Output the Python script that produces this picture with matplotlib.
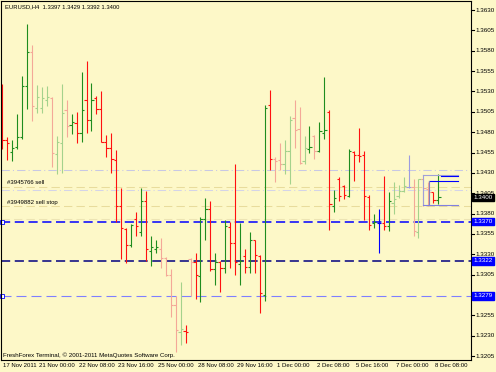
import matplotlib
matplotlib.use("Agg")
import matplotlib.pyplot as plt
import matplotlib.transforms as mtransforms

# EURUSD H4 bars, 17 Nov 2011 16:00 .. 8 Dec 2011 08:00
opens = [1.3507, 1.3470, 1.3456, 1.3462, 1.3474, 1.3537, 1.3579, 1.3510, 1.3510, 1.3520,
         1.3522, 1.3453, 1.3467, 1.3507, 1.3489, 1.3491, 1.3479, 1.3519, 1.3495, 1.3522,
         1.3509, 1.3468, 1.3461, 1.3446, 1.3389, 1.3361, 1.3341, 1.3373, 1.3358, 1.3395,
         1.3334, 1.3336, 1.3336, 1.3325, 1.3305, 1.3268, 1.3235, 1.3236, 1.3324, 1.3321,
         1.3303, 1.3373, 1.3386, 1.3312, 1.3320, 1.3313, 1.3364, 1.3344, 1.3318, 1.3328,
         1.3314, 1.3347, 1.3328, 1.3280, 1.3513, 1.3447, 1.3446, 1.3441, 1.3457, 1.3497,
         1.3484, 1.3444, 1.3459, 1.3475, 1.3457, 1.3479, 1.3505, 1.3389, 1.3423, 1.3414,
         1.3402, 1.3456, 1.3452, 1.3452, 1.3400, 1.3368, 1.3369, 1.3369, 1.3365, 1.3393,
         1.3402, 1.3408, 1.3413, 1.3413, 1.3358, 1.3422, 1.3410, 1.3406, 1.3397]
highs = [1.3539, 1.3474, 1.3471, 1.3502, 1.3549, 1.3613, 1.3587, 1.3538, 1.3535, 1.3537,
         1.3523, 1.3475, 1.3539, 1.3520, 1.3502, 1.3505, 1.3554, 1.3568, 1.3541, 1.3524,
         1.3530, 1.3477, 1.3479, 1.3458, 1.3412, 1.3362, 1.3367, 1.3382, 1.3411, 1.3408,
         1.3352, 1.3348, 1.3350, 1.3327, 1.3312, 1.3279, 1.3296, 1.3243, 1.3325, 1.3332,
         1.3376, 1.3399, 1.3396, 1.3332, 1.3322, 1.3372, 1.3370, 1.3441, 1.3369, 1.3336,
         1.3358, 1.3348, 1.3329, 1.3513, 1.3532, 1.3449, 1.3467, 1.3471, 1.3500, 1.3520,
         1.3511, 1.3475, 1.3487, 1.3477, 1.3492, 1.3548, 1.3507, 1.3409, 1.3425, 1.3415,
         1.3459, 1.3457, 1.3485, 1.3457, 1.3403, 1.3380, 1.3386, 1.3426, 1.3407, 1.3419,
         1.3415, 1.3425, 1.3452, 1.3423, 1.3423, 1.3423, 1.3419, 1.3407, 1.3429]
lows = [1.3459, 1.3446, 1.3445, 1.3459, 1.3472, 1.3508, 1.3494, 1.3504, 1.3504, 1.3512,
        1.3437, 1.3429, 1.3430, 1.3474, 1.3478, 1.3467, 1.3468, 1.3479, 1.3481, 1.3502,
        1.3468, 1.3450, 1.3430, 1.3370, 1.3324, 1.3319, 1.3339, 1.3352, 1.3352, 1.3322,
        1.3316, 1.3331, 1.3313, 1.3303, 1.3253, 1.3210, 1.3219, 1.3221, 1.3279, 1.3275,
        1.3271, 1.3347, 1.3309, 1.3292, 1.3284, 1.3307, 1.3313, 1.3305, 1.3292, 1.3307,
        1.3307, 1.3307, 1.3258, 1.3273, 1.3433, 1.3419, 1.3433, 1.3429, 1.3416, 1.3460,
        1.3441, 1.3441, 1.3455, 1.3447, 1.3456, 1.3472, 1.3360, 1.3382, 1.3396, 1.3398,
        1.3400, 1.3420, 1.3443, 1.3372, 1.3360, 1.3362, 1.3332, 1.3360, 1.3359, 1.3380,
        1.3399, 1.3406, 1.3411, 1.3352, 1.3350, 1.3389, 1.3389, 1.3393, 1.3392]
closes = [1.3470, 1.3467, 1.3461, 1.3474, 1.3537, 1.3578, 1.3512, 1.3523, 1.3522, 1.3523,
          1.3454, 1.3468, 1.3504, 1.3487, 1.3492, 1.3479, 1.3507, 1.3495, 1.3520, 1.3508,
          1.3468, 1.3461, 1.3447, 1.3389, 1.3362, 1.3341, 1.3366, 1.3365, 1.3396, 1.3336,
          1.3339, 1.3339, 1.3325, 1.3305, 1.3268, 1.3237, 1.3238, 1.3234, 1.3321, 1.3305,
          1.3373, 1.3386, 1.3312, 1.3320, 1.3313, 1.3365, 1.3344, 1.3321, 1.3322, 1.3314,
          1.3348, 1.3329, 1.3282, 1.3510, 1.3447, 1.3444, 1.3441, 1.3457, 1.3495, 1.3483,
          1.3442, 1.3460, 1.3462, 1.3457, 1.3482, 1.3483, 1.3392, 1.3399, 1.3402, 1.3403,
          1.3457, 1.3452, 1.3451, 1.3401, 1.3366, 1.3370, 1.3369, 1.3365, 1.3395, 1.3398,
          1.3408, 1.3414, 1.3413, 1.3359, 1.3422, 1.3411, 1.3406, 1.3397, 1.3400]

# bars drawn faded in the screenshot
pale = [6, 7, 8, 9, 10, 11, 12, 13, 32, 33, 34, 35, 36, 38, 55, 56, 57, 58, 59, 60,
        61, 63, 79, 80, 81, 82, 83, 84, 85, 86]

time_labels = ['17 Nov 2011', '21 Nov 00:00', '22 Nov 08:00', '23 Nov 16:00', '25 Nov 00:00',
               '28 Nov 08:00', '29 Nov 16:00', '1 Dec 00:00', '2 Dec 08:00', '5 Dec 16:00',
               '7 Dec 00:00', '8 Dec 08:00']
time_label_bars = [0, 8, 16, 24, 32, 40, 48, 56, 64, 72, 80, 88]

price_ticks = [1.3630, 1.3605, 1.3580, 1.3555, 1.3530, 1.3505, 1.3480, 1.3455, 1.3430, 1.3405,
               1.3380, 1.3355, 1.3330, 1.3305, 1.3280, 1.3255, 1.3230, 1.3205]

# horizontal lines with price boxes on the right
hline_prices = [1.3370, 1.3322, 1.3279]
bid = 1.3400

# faint order lines
order_levels = [1.34335, 1.3413, 1.3409, 1.3389, 1.3373]
order_labels = ['#3945766 sell', '#3949882 sell stop']
order_label_prices = [1.3418, 1.3394]

title = 'EURUSD,H4  1.3397 1.3429 1.3392 1.3400'
footer = 'FreshForex Terminal, \u00a9 2001-2011 MetaQuotes Software Corp.'

bg = '#fdf8c8'
W, H = 496, 372
plt.rcParams['font.family'] = ['Liberation Sans', 'DejaVu Sans']
fig = plt.figure(figsize=(W / 100, H / 100), dpi=100, facecolor=bg)
ax = fig.add_axes([1 / W, 12 / H, 470 / W, 359 / H], facecolor=bg)
ax.set_xlim(-0.26, 94.6)
ax.set_ylim(1.32002, 1.36411)
ax.set_xticks([])
ax.set_yticks([])
for s in ax.spines.values():
    s.set_color('black')
    s.set_linewidth(0.8)

# faint order lines
ax.axhline(order_levels[0], color='#c8c8e4', lw=0.75, dashes=(8, 3, 1, 3))
ax.axhline(order_levels[1], color='#e8dc9c', lw=0.75, dashes=(8, 4))
ax.axhline(order_levels[2], color='#d4d4e8', lw=0.75, dashes=(8, 3, 1, 3))
ax.axhline(order_levels[3], color='#e8dc9c', lw=0.75, dashes=(8, 4))
ax.axhline(order_levels[4], color='#ece4b4', lw=0.75, dashes=(8, 4))
for txt, p in zip(order_labels, order_label_prices):
    ax.text(1.0, p, txt, fontsize=4.3, va='center', ha='left', color='black')

# level lines
ax.axhline(hline_prices[0], color='#0000ff', lw=1.1, dashes=(6, 3))
ax.axhline(hline_prices[1], color='#000080', lw=1.1, dashes=(6, 3))
ax.axhline(hline_prices[2], color='#7f7fff', lw=0.8, dashes=(9, 4.5))
for p in [hline_prices[0], hline_prices[2]]:
    ax.plot([0.0], [p], marker='s', ms=2.6, mfc='white', mec='#0000ff', mew=0.6, clip_on=False)

# OHLC bars
for i in range(len(opens)):
    o, h, l, c = opens[i], highs[i], lows[i], closes[i]
    faded = i in pale
    if c > o:
        col = '#a4d28c' if faded else '#1f8c1f'
    elif c < o:
        col = '#f4a898' if faded else '#ff1010'
    else:
        col = '#9c9ce0' if faded else '#0000ff'
    ax.vlines(i, l, h, color=col, lw=0.8)
    ax.hlines(o, i - 0.45, i, color=col, lw=0.8)
    ax.hlines(c, i, i + 0.45, color=col, lw=0.8)

# small objects near the last bars
ax.plot([84.9, 92.0], [1.34274, 1.34274], color='#a0a0d8', lw=0.8)
ax.plot([84.9, 84.9], [1.34274, 1.33905], color='#a0a0d8', lw=0.8)
ax.plot([88.5, 92.0], [1.34256, 1.34256], color='#0000ff', lw=0.8)
ax.plot([86.1, 92.0], [1.34200, 1.34200], color='#0000ff', lw=0.8)
ax.plot([86.1, 86.1], [1.34200, 1.33905], color='#8080c0', lw=0.8)
ax.plot([84.9, 92.0], [1.33905, 1.33905], color='#8080e0', lw=0.8)

# right price scale
ylab = mtransforms.blended_transform_factory(ax.transAxes, ax.transData)
for p in price_ticks:
    if abs(p - 1.3280) < 1e-6:
        continue
    ax.plot([1.0, 1.006], [p, p], color='black', lw=0.8, transform=ylab, clip_on=False)
    ax.text(1.009, p, '%.4f' % p, transform=ylab, fontsize=4.5, va='center', ha='left', clip_on=False)
for p in hline_prices:
    ax.text(1.005, p, '%.4f' % p, transform=ylab, fontsize=4.5, va='center', ha='left', color='white',
            bbox=dict(boxstyle='square,pad=0.2', fc='#0000ff', ec='#0000ff'), clip_on=False)
ax.text(1.005, bid, '%.4f' % bid, transform=ylab, fontsize=4.5, va='center', ha='left', color='white',
        bbox=dict(boxstyle='square,pad=0.2', fc='black', ec='black'), clip_on=False)

# time scale
xlab = mtransforms.blended_transform_factory(ax.transData, fig.transFigure)
for k, t in zip(time_label_bars, time_labels):
    ax.text(max(k - 0.58, 0.14), 1 - 365.5 / H, t, transform=xlab, fontsize=4.3,
            va='center', ha='left', clip_on=False)

fig.text(5 / W, 1 - 7 / H, title, fontsize=4.2, va='center', ha='left')
fig.text(3 / W, 1 - 355 / H, footer, fontsize=4.4, va='center', ha='left')

fig.savefig('out.png', dpi=100, facecolor=bg)
